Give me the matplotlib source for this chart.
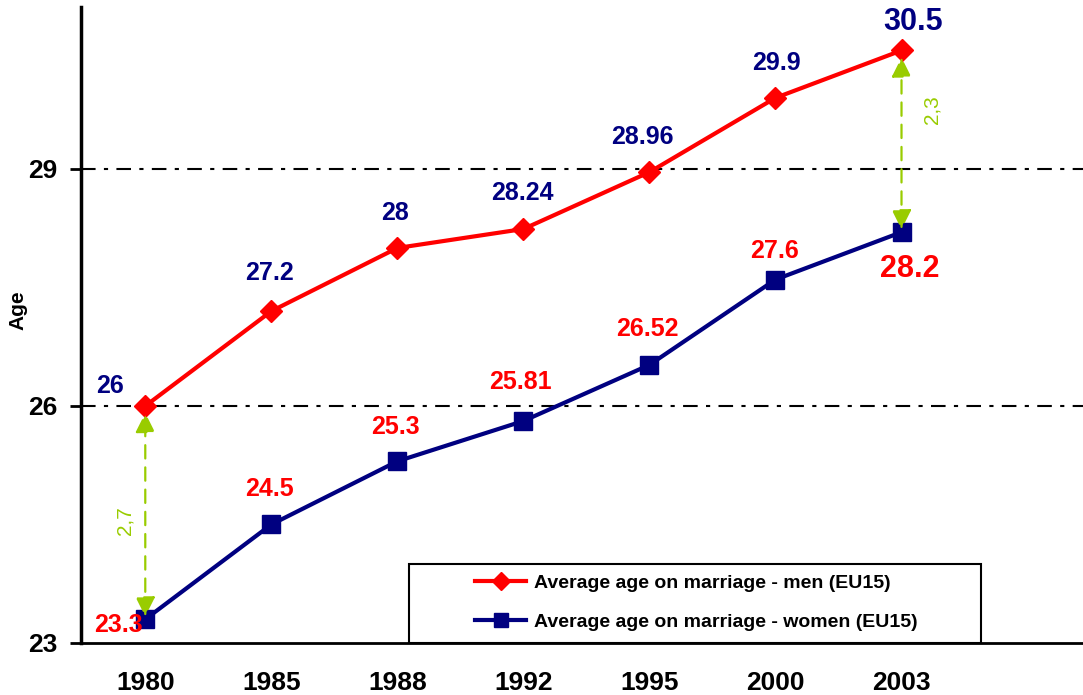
import matplotlib.pyplot as plt
from matplotlib.patches import Rectangle

years = ["1980", "1985", "1988", "1992", "1995", "2000", "2003"]
men = [26, 27.2, 28, 28.24, 28.96, 29.9, 30.5]
women = [23.3, 24.5, 25.3, 25.81, 26.52, 27.6, 28.2]
men_lbl = ["26", "27.2", "28", "28.24", "28.96", "29.9", "30.5"]
women_lbl = ["23.3", "24.5", "25.3", "25.81", "26.52", "27.6", "28.2"]
gap_first = "2,7"
gap_last = "2,3"

RED = "#FF0000"
NAVY = "#000080"
GREEN = "#99CC00"

plt.rcParams["font.family"] = ["Liberation Sans", "DejaVu Sans"]


def plot():
    fig = plt.figure(figsize=(10.83, 6.95), dpi=100)
    ax = fig.add_axes([81 / 1083, 52 / 695, 1 - 81 / 1083, (643 - 7) / 695])
    x = list(range(len(years)))

    ax.set_xlim(-0.51, 7.44)
    ax.set_ylim(23, 31.05)

    # grid lines
    for g in (26, 29):
        ax.axhline(g, color="black", lw=1.5, ls=(0, (7, 4, 2, 4)), zorder=1)

    ax.plot(x, men, color=RED, lw=3, marker="D", ms=11, label="Average age on marriage - men (EU15)", zorder=3)
    ax.plot(x, women, color=NAVY, lw=3, marker="s", ms=13, label="Average age on marriage - women (EU15)", zorder=3)

    # value labels (pixel offsets)
    men_off = [(-35, 20), (-2, 38), (-2, 35), (-1, 36), (-7, 35), (1, 35), (12, 28)]
    women_off = [(-27, -6), (-2, 35), (-2, 34), (-3, 39), (-2, 36), (-1, 29), (8, -37)]
    for i in x:
        big = i == len(x) - 1
        ax.annotate(men_lbl[i], (i, men[i]), xytext=men_off[i], textcoords="offset pixels",
                    ha="center", va="center", color=NAVY, fontweight="bold",
                    fontsize=22 if big else 18, zorder=4)
        ax.annotate(women_lbl[i], (i, women[i]), xytext=women_off[i], textcoords="offset pixels",
                    ha="center", va="center", color=RED, fontweight="bold",
                    fontsize=22 if big else 18, zorder=4)

    # gap arrows
    for i, lo, hi in ((0, women[0], men[0]), (6, women[6], men[6])):
        ax.annotate("", xy=(i, hi), xytext=(i, lo),
                    arrowprops=dict(arrowstyle="<|-|>", color=GREEN, lw=1.6, ls=(0, (6, 4)),
                                    mutation_scale=30, shrinkA=2, shrinkB=5), zorder=5)
    ax.text(-0.16, (women[0] + men[0]) / 2 - 0.1, gap_first, rotation=90, color=GREEN,
            fontsize=15, ha="center", va="center")
    ax.text(6.24, (women[6] + men[6]) / 2 + 0.4, gap_last, rotation=90, color=GREEN,
            fontsize=15, ha="center", va="center")

    # axes style
    for s in ("top", "right"):
        ax.spines[s].set_visible(False)
    ax.spines["left"].set_linewidth(2.5)
    ax.spines["bottom"].set_linewidth(2)
    ax.set_yticks([23, 26, 29])
    ax.set_xticks(x)
    ax.set_xticklabels(years)
    ax.tick_params(axis="y", length=8, width=2, pad=9, labelsize=19)
    ax.tick_params(axis="x", length=0, pad=20, labelsize=19)
    for t in ax.get_xticklabels() + ax.get_yticklabels():
        t.set_fontweight("bold")
    fig.text(18 / 1083, 1 - 310 / 695, "Age", rotation=90, ha="center", va="center",
             fontsize=15, fontweight="bold")

    # legend
    ax.add_patch(Rectangle((2.09, 23), 4.54, 1.0, facecolor="white", edgecolor="black",
                           lw=1.5, zorder=6, clip_on=False))
    leg = ax.legend(loc="center left", bbox_to_anchor=(2.62, 23.51), bbox_transform=ax.transData,
                    frameon=False, borderpad=0, borderaxespad=0, handlelength=2.6,
                    handletextpad=0.4, labelspacing=1.1, markerscale=0.8,
                    prop={"weight": "bold", "size": 14})
    leg.set_zorder(7)

    plt.savefig("out.png", dpi=100)


if __name__ == "__main__":
    plot()
